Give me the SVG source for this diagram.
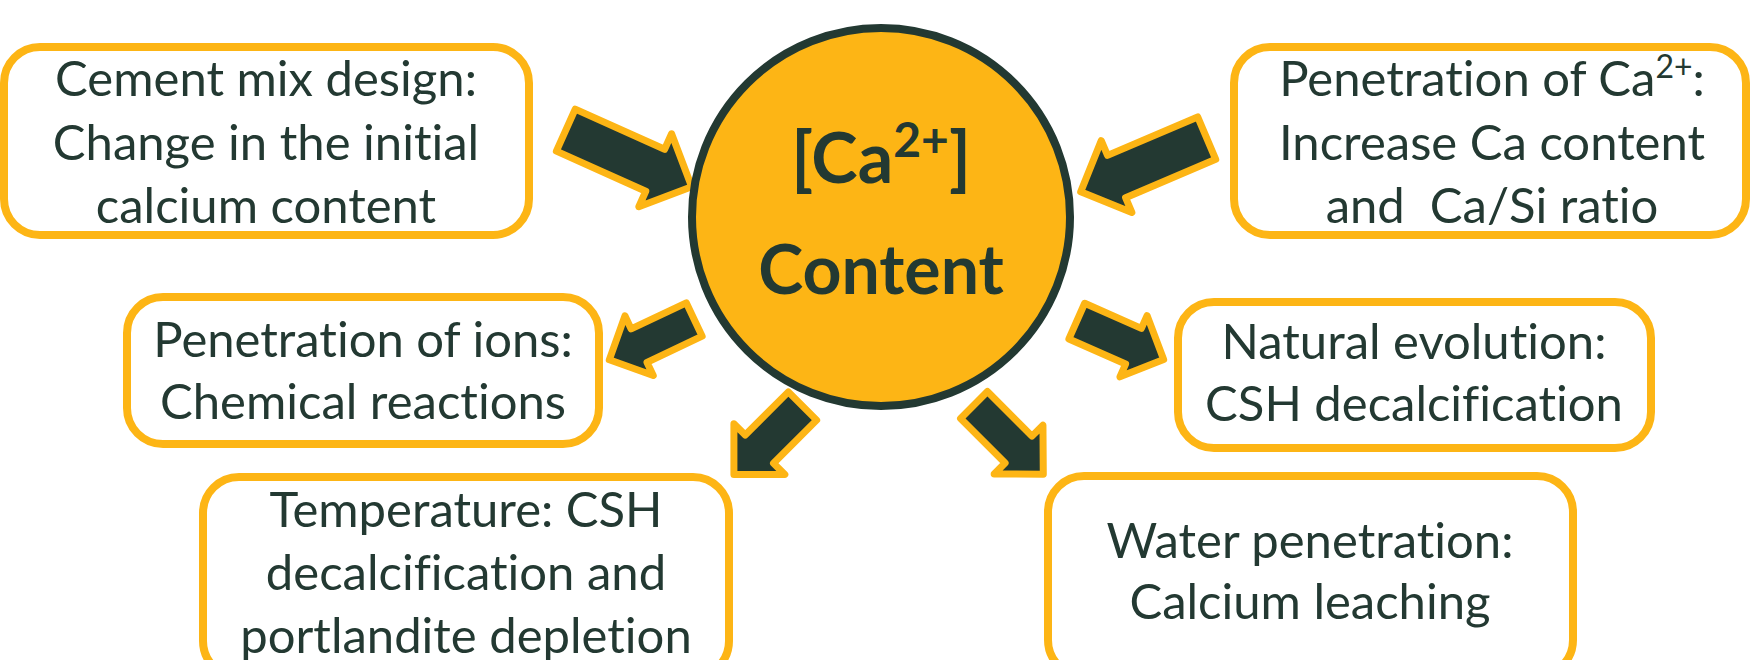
<svg xmlns="http://www.w3.org/2000/svg" width="1750" height="660" viewBox="0 0 1750 660">
<style>
.box{fill:#ffffff;stroke:#FDB515;stroke-width:8}
.t{font-family:Lato,"Open Sans",sans-serif;font-size:49px;fill:#233932;text-anchor:middle;font-variant-ligatures:none}
.tb{font-family:Lato,"Open Sans",sans-serif;font-weight:bold;fill:#233932;text-anchor:middle;font-variant-ligatures:none}
.arr{fill:#233932;stroke:#FDB515;stroke-width:7;stroke-linejoin:round}
</style>
<rect width="1750" height="660" fill="#ffffff"/>
<g id="connectors">
<path class="arr" transform="translate(565.8,130.1) rotate(24.2)" d="M0,-23 L98,-23 L98,-40 L138,0 L98,40 L98,23 L0,23 Z"/>
<path class="arr" transform="translate(1206.7,138.1) rotate(156.9)" d="M0,-23 L98,-23 L98,-39 L137,0 L98,39 L98,23 L0,23 Z"/>
<path class="arr" transform="translate(694.2,319.5) rotate(154.6)" d="M0,-18.5 L61,-18.5 L61,-33 L94,0 L61,33 L61,18.5 L0,18.5 Z"/>
<path class="arr" transform="translate(1076.8,321.1) rotate(23.9)" d="M0,-19.5 L62,-19.5 L62,-33.5 L95,0 L62,33.5 L62,19.5 L0,19.5 Z"/>
<path class="arr" transform="translate(802.5,406) rotate(135)" d="M0,-20 L61,-20 L61,-36 L97,0 L61,36 L61,20 L0,20 Z"/>
<path class="arr" transform="translate(974,405) rotate(45)" d="M0,-19 L63,-19 L63,-34.5 L98,0 L63,34.5 L63,19 L0,19 Z"/>
</g>
<g id="center">
<circle cx="881" cy="217" r="189" fill="#FDB515" stroke="#233932" stroke-width="8"/>
<text class="tb" x="881" y="183" font-size="70">[Ca<tspan font-size="48" dy="-26">2+</tspan><tspan dy="26">]</tspan></text>
<text class="tb" x="881" y="294" font-size="68">Content</text>
</g>
<g id="node-cement">
<rect class="box" x="4" y="47" width="525" height="188" rx="36"/>
<text class="t" x="266" y="96">Cement mix design:</text>
<text class="t" x="266" y="160">Change in the initial</text>
<text class="t" x="266" y="223">calcium content</text>
</g>
<g id="node-penetration-ca">
<rect class="box" x="1234" y="47" width="512" height="188" rx="36"/>
<text class="t" x="1492" y="96">Penetration of Ca<tspan font-size="32" dy="-18">2+</tspan><tspan dy="18">:</tspan></text>
<text class="t" x="1492" y="160">Increase Ca content</text>
<text class="t" x="1492" y="223" xml:space="preserve">and  Ca/Si ratio</text>
</g>
<g id="node-ions">
<rect class="box" x="127" y="297" width="472" height="147" rx="36"/>
<text class="t" x="363" y="357">Penetration of ions:</text>
<text class="t" x="363" y="419">Chemical reactions</text>
</g>
<g id="node-natural">
<rect class="box" x="1178" y="302" width="473" height="146" rx="36"/>
<text class="t" x="1414" y="359">Natural evolution:</text>
<text class="t" x="1414" y="421">CSH decalcification</text>
</g>
<g id="node-temperature">
<rect class="box" x="203" y="477" width="526" height="200" rx="36"/>
<text class="t" x="466" y="527">Temperature: CSH</text>
<text class="t" x="466" y="590">decalcification and</text>
<text class="t" x="466" y="653">portlandite depletion</text>
</g>
<g id="node-water">
<rect class="box" x="1048" y="476" width="525" height="200" rx="36"/>
<text class="t" x="1310" y="558">Water penetration:</text>
<text class="t" x="1310" y="619">Calcium leaching</text>
</g>
</svg>
